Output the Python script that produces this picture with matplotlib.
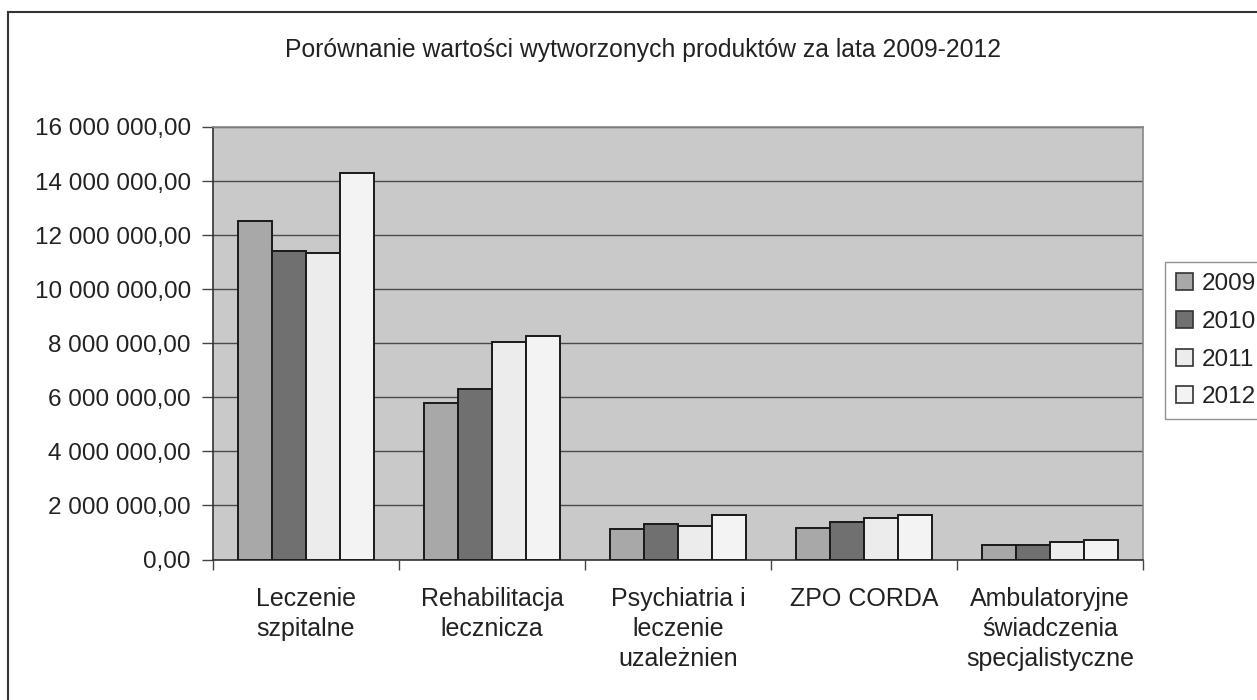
import matplotlib
matplotlib.use("Agg")
import matplotlib.pyplot as plt
import numpy as np
from matplotlib.patches import Rectangle, Patch
from matplotlib.ticker import FuncFormatter, FixedLocator

plt.rcParams['font.family'] = ['Liberation Sans', 'DejaVu Sans']

categories = ["Leczenie\nszpitalne", "Rehabilitacja\nlecznicza", "Psychiatria i\nleczenie\nuzależnien",
              "ZPO CORDA", "Ambulatoryjne\nświadczenia\nspecjalistyczne"]
years = ["2009", "2010", "2011", "2012"]
v2009 = [12510000, 5780000, 1140000, 1150000, 550000]
v2010 = [11420000, 6310000, 1320000, 1400000, 550000]
v2011 = [11340000, 8030000, 1240000, 1540000, 640000]
v2012 = [14300000, 8250000, 1630000, 1640000, 720000]
series = [v2009, v2010, v2011, v2012]
colors = ["#a8a8a8", "#707070", "#ececec", "#f3f3f3"]
title = "Porównanie wartości wytworzonych produktów za lata 2009-2012"

W, H = 1257, 700
fig = plt.figure(figsize=(W / 100, H / 100), dpi=100)
fig.patch.set_facecolor("white")

# outer chart border
fig.patches.append(Rectangle((8 / W, -0.05), 1.2, 1 - 12 / H + 0.05, transform=fig.transFigure,
                             fill=False, edgecolor="#333333", linewidth=1.5))

ax = fig.add_axes([213 / W, 1 - 559.5 / H, (1143 - 213) / W, (559.5 - 127) / H])
ax.set_facecolor("#c9c9c9")

n = len(years)
bw = 0.182
x = np.arange(len(categories))
for i, (vals, c) in enumerate(zip(series, colors)):
    ax.bar(x + (i - (n - 1) / 2) * bw, vals, width=bw, color=c, edgecolor="#1a1a1a",
           linewidth=1.4, zorder=3, label=years[i])

ax.set_xlim(-0.5, len(categories) - 0.5)
ax.set_ylim(0, 16000000)
ax.yaxis.set_major_locator(FixedLocator(np.arange(0, 16000001, 2000000)))

def fmt(v, pos):
    s = f"{int(round(v)):,}".replace(",", " ")
    return s + ",00"
ax.yaxis.set_major_formatter(FuncFormatter(fmt))
ax.grid(axis="y", color="#4a4a4a", linewidth=1.0, zorder=1)
ax.set_axisbelow(True)

ax.set_xticks(np.arange(-0.5, len(categories), 1.0))
ax.set_xticklabels([])
ax.set_xticks(x, minor=True)
ax.set_xticklabels(categories, minor=True, fontsize=18, color="#222222", linespacing=1.3)
ax.tick_params(axis="x", which="minor", length=0, pad=20)
ax.tick_params(axis="x", which="major", length=7, width=1, color="#444444", direction="out")
ax.tick_params(axis="y", length=8, width=1, color="#444444", direction="out", labelsize=17.5,
               labelcolor="#222222", pad=8)

for s in ["left", "bottom"]:
    ax.spines[s].set_color("#333333")
    ax.spines[s].set_linewidth(1.2)
for s in ["top", "right"]:
    ax.spines[s].set_color("#888888")
    ax.spines[s].set_linewidth(1.2)

fig.text(643 / W, 1 - 50 / H, title, ha="center", va="center", fontsize=17.8, color="#222222")

handles = [Patch(facecolor=c, edgecolor="#333333", linewidth=1.2, label=y) for c, y in zip(colors, years)]
leg = fig.legend(handles=handles, loc="upper left", bbox_to_anchor=(1165 / W, 1 - 262 / H),
                 frameon=True, fancybox=False, fontsize=17.5, handlelength=0.7, handleheight=0.7,
                 handletextpad=0.35, labelspacing=0.65, borderpad=0.45, borderaxespad=0)
leg.get_frame().set_edgecolor("#777777")
leg.get_frame().set_linewidth(1.0)
for t in leg.get_texts():
    t.set_color("#222222")

fig.savefig("out.png", dpi=100)
